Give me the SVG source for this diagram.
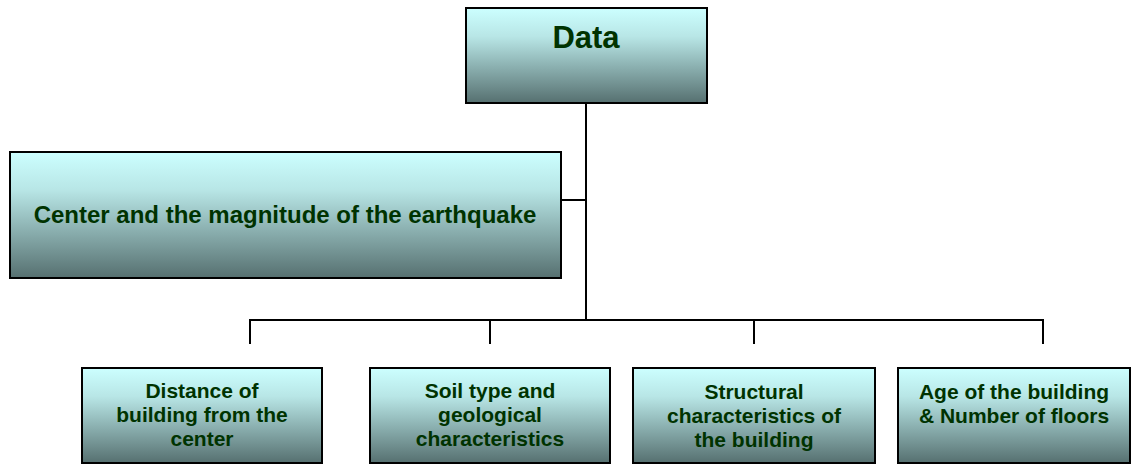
<svg xmlns="http://www.w3.org/2000/svg" width="1132" height="464" viewBox="0 0 1132 464">
<style>
.box{fill:url(#g);stroke:#000;stroke-width:2}
.t{font-family:"Liberation Sans",Arial,sans-serif;font-weight:bold;fill:#003300;text-anchor:middle}
.s{font-size:21px}
.c{stroke:#000;stroke-width:2;fill:none}
</style>
<defs>
<linearGradient id="g" x1="0" y1="0" x2="0" y2="1">
<stop offset="0" stop-color="#ccffff"/>
<stop offset="0.3" stop-color="#b8e6e6"/>
<stop offset="1" stop-color="#567070"/>
</linearGradient>
</defs>
<g id="connectors">
<path class="c" d="M586 103V320M561 200H586M250 344V320H1043V344M490 320V344M754 320V344"/>
</g>
<g id="data">
<rect class="box" x="466" y="8" width="241" height="95"/>
<text class="t" x="586" y="48" font-size="31">Data</text>
</g>
<g id="center">
<rect class="box" x="10" y="152" width="551" height="126"/>
<text class="t" x="285" y="223" font-size="24">Center and the magnitude of the earthquake</text>
</g>
<g id="distance">
<rect class="box" x="82" y="368" width="240" height="95"/>
<text class="t s" x="202" y="398">Distance of<tspan x="202" dy="24">building from the</tspan><tspan x="202" dy="24">center</tspan></text>
</g>
<g id="soil">
<rect class="box" x="370" y="368" width="240" height="95"/>
<text class="t s" x="490" y="398">Soil type and<tspan x="490" dy="24">geological</tspan><tspan x="490" dy="24">characteristics</tspan></text>
</g>
<g id="structural">
<rect class="box" x="633" y="368" width="242" height="95"/>
<text class="t s" x="754" y="399">Structural<tspan x="754" dy="24">characteristics of</tspan><tspan x="754" dy="24">the building</tspan></text>
</g>
<g id="age">
<rect class="box" x="898" y="368" width="232" height="95"/>
<text class="t s" x="1014" y="399">Age of the building<tspan x="1014" dy="24">&amp; Number of floors</tspan></text>
</g>
</svg>
